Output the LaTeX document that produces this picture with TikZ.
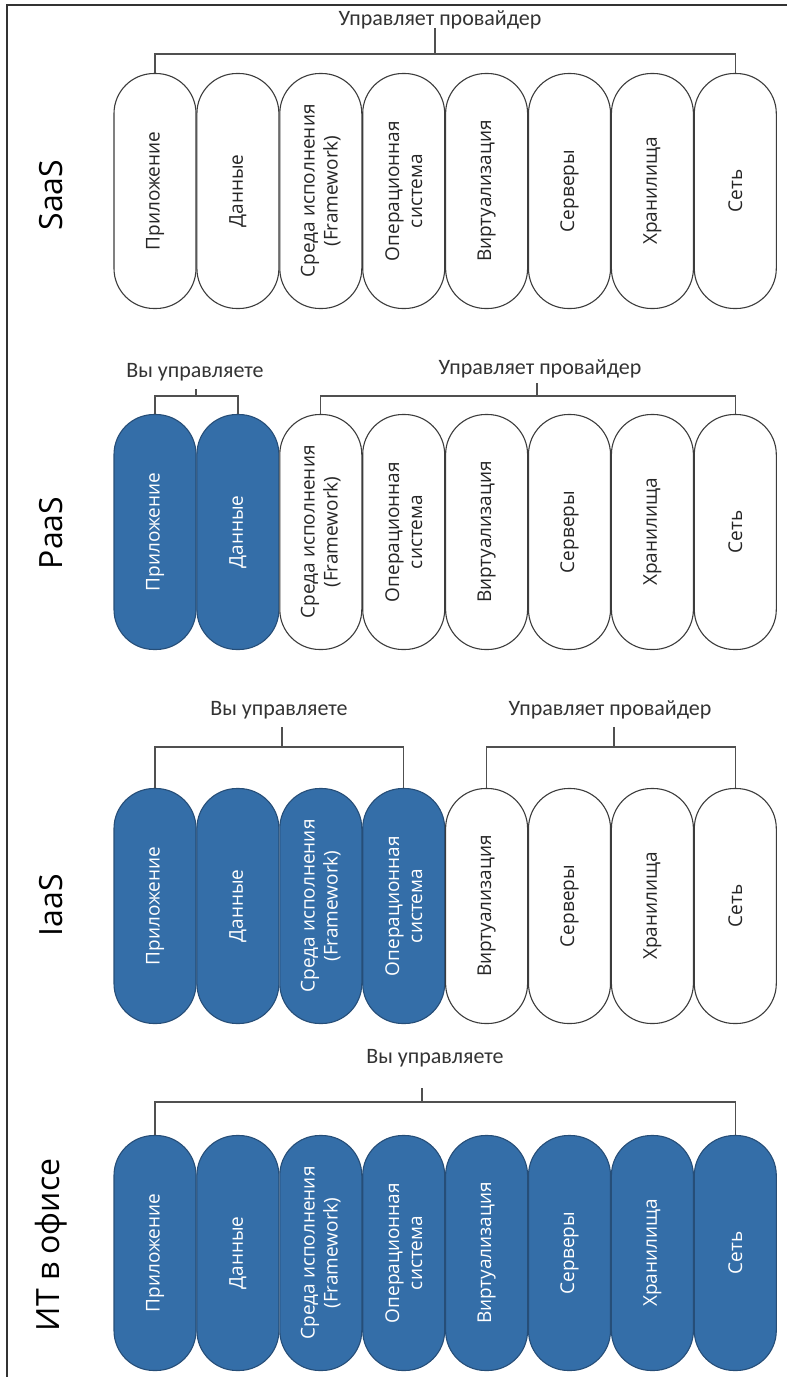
\documentclass[tikz,border=0pt]{standalone}
\usepackage{fontspec}
\setmainfont{Open Sans}
\newfontfamily\bracefont{Carlito}
\definecolor{ownblue}{RGB}{52,110,168}
\definecolor{ownedge}{RGB}{38,78,120}
\definecolor{provedge}{RGB}{60,60,60}
\definecolor{linegray}{RGB}{80,80,80}
\begin{document}
\begin{tikzpicture}[x=1pt,y=-1pt,
    pill/.style={draw, rotate=90, minimum width=235pt, minimum height=82pt, rounded corners=40pt,
        inner sep=2pt, align=center, line width=1.1pt, font=\fontsize{19}{23}\selectfont},
    own/.style={fill=ownblue, draw=ownedge, text=white},
    prov/.style={fill=white, draw=provedge, text=black!85},
    lbl/.style={rotate=90, font=\fontsize{32}{36}\selectfont},
    brace/.style={font=\bracefont\fontsize{22}{26}\selectfont, text=black!80},
    link/.style={draw=linegray, line width=1.2pt}]
    \useasboundingbox (0,0) rectangle (787,1377);
    \draw[line width=2pt, black!80] (787,5) -- (7,5) -- (7,1377);

    % rows of pills: name / centre / how many you manage
    \foreach \row/\yc/\nb in {s/191/0, p/532/2, i/906/4, o/1253/8} {
        \foreach \t [count=\i] in {Приложение, Данные, {Среда исполнения\\(Framework)},
                {Операционная\\система}, Виртуализация, Серверы, Хранилища, Сеть} {
            \ifnum\i>\nb \def\who{prov}\else\def\who{own}\fi
            \node[pill,\who] (\row\i) at ({155+82.9*(\i-1)},\yc) {\t};
        }
    }

    \node[lbl] (ls) at (51,195) {SaaS};
    \node[lbl] (lp) at (51,533) {PaaS};
    \node[lbl] (li) at (51,905) {IaaS};
    \node[lbl] (lo) at (51,1245) {ИТ в офисе};

    % SaaS
    \node[brace] (ts) at (440,20) {Управляет провайдер};
    \coordinate (js) at (435,54);
    \draw[link] (s1.east) |- (js) -| (s8.east);
    \draw[link] (js) -- ++(0,-26);

    % PaaS
    \node[brace] (tpa) at (195,372) {Вы управляете};
    \coordinate (jpa) at (196,396);
    \draw[link] (p1.east) |- (jpa) -| (p2.east);
    \draw[link] (jpa) -- ++(0,-7);
    \node[brace] (tpb) at (540,369) {Управляет провайдер};
    \coordinate (jpb) at (537,396);
    \draw[link] (p3.east) |- (jpb) -| (p8.east);
    \draw[link] (jpb) -- ++(0,-13);

    % IaaS
    \node[brace] (tia) at (279,710) {Вы управляете};
    \coordinate (jia) at (282,747);
    \draw[link] (i1.east) |- (jia) -| (i4.east);
    \draw[link] (jia) -- ++(0,-20);
    \node[brace] (tib) at (610,710) {Управляет провайдер};
    \coordinate (jib) at (614,747);
    \draw[link] (i5.east) |- (jib) -| (i8.east);
    \draw[link] (jib) -- ++(0,-20);

    % IT in the office
    \node[brace] (to) at (435,1058) {Вы управляете};
    \coordinate (jo) at (422,1102);
    \draw[link] (o1.east) |- (jo) -| (o8.east);
    \draw[link] (jo) -- ++(0,-14);
\end{tikzpicture}
\end{document}
